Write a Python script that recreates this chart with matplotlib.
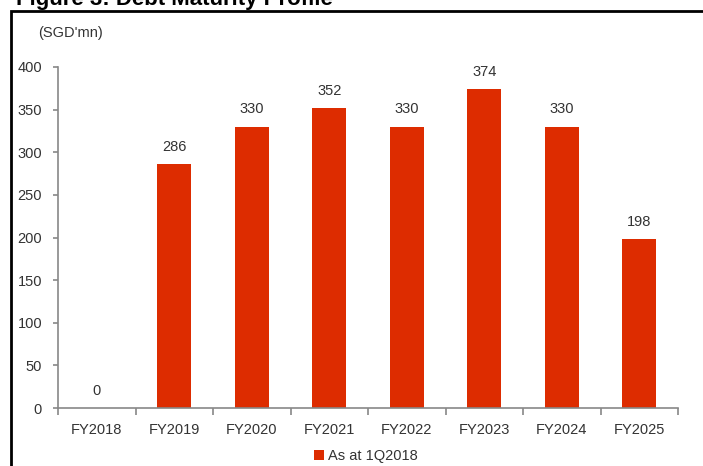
import matplotlib
matplotlib.use("Agg")
import matplotlib.pyplot as plt
from matplotlib.patches import Rectangle
import numpy as np

plt.rcParams['font.family'] = ['Liberation Sans', 'DejaVu Sans']

categories = ["FY2018", "FY2019", "FY2020", "FY2021", "FY2022", "FY2023", "FY2024", "FY2025"]
values = [0, 286, 330, 352, 330, 374, 330, 198]
yticks = [0, 50, 100, 150, 200, 250, 300, 350, 400]
series_name = "As at 1Q2018"
unit_label = "(SGD'mn)"
title = "Figure 3: Debt Maturity Profile"

W, H = 703, 466
fig = plt.figure(figsize=(W/100, H/100), dpi=100)
ax = fig.add_axes([58/W, 1-408/H, (678-58)/W, (408-67)/H])

bar_color = "#DD2C00"
axis_color = "#888888"
text_color = "#333333"
fs = 10.5

x = np.arange(len(categories))
bars = ax.bar(x, values, width=0.44, color=bar_color, label=series_name, zorder=2)
for xi, v in zip(x, values):
    ax.annotate(str(v), (xi, v), xytext=(0, 7.5), textcoords="offset points",
                ha="center", va="bottom", fontsize=fs, color=text_color)

ax.set_xlim(-0.5, len(categories)-0.5)
ax.set_ylim(0, 400)
ax.set_yticks(yticks)
ax.set_yticklabels([str(t) for t in yticks])
ax.set_xticks(np.arange(len(categories)+1)-0.5)
ax.set_xticklabels([])
ax.set_xticks(x, minor=True)
ax.set_xticklabels(categories, minor=True)
ax.tick_params(axis='x', which='major', length=5, color=axis_color, width=1.2)
ax.tick_params(axis='x', which='minor', length=0, labelsize=fs, labelcolor=text_color, pad=11)
ax.tick_params(axis='y', length=3.5, color=axis_color, width=1.2, labelsize=fs, labelcolor=text_color, pad=8)
for s in ['top', 'right']:
    ax.spines[s].set_visible(False)
for s in ['left', 'bottom']:
    ax.spines[s].set_color(axis_color)
    ax.spines[s].set_linewidth(1.2)

fig.text(38/W, 1-33/H, unit_label, fontsize=fs, color=text_color, va="center", ha="left")

leg = fig.legend(handles=[bars], labels=[series_name], loc="center", bbox_to_anchor=(366/W, 1-456/H),
                 frameon=False, fontsize=fs, handlelength=0.7, handleheight=0.7, handletextpad=0.3,
                 labelcolor=text_color)

fig.patches.append(Rectangle((11/W, -0.1), 1.2, (466-11)/H + 0.1, transform=fig.transFigure,
                             fill=False, edgecolor="black", linewidth=2))
fig.text(16/W, 1-5/H, title, fontsize=16, fontweight="bold", va="baseline", ha="left", color="black")

fig.savefig("out.png", dpi=100)
